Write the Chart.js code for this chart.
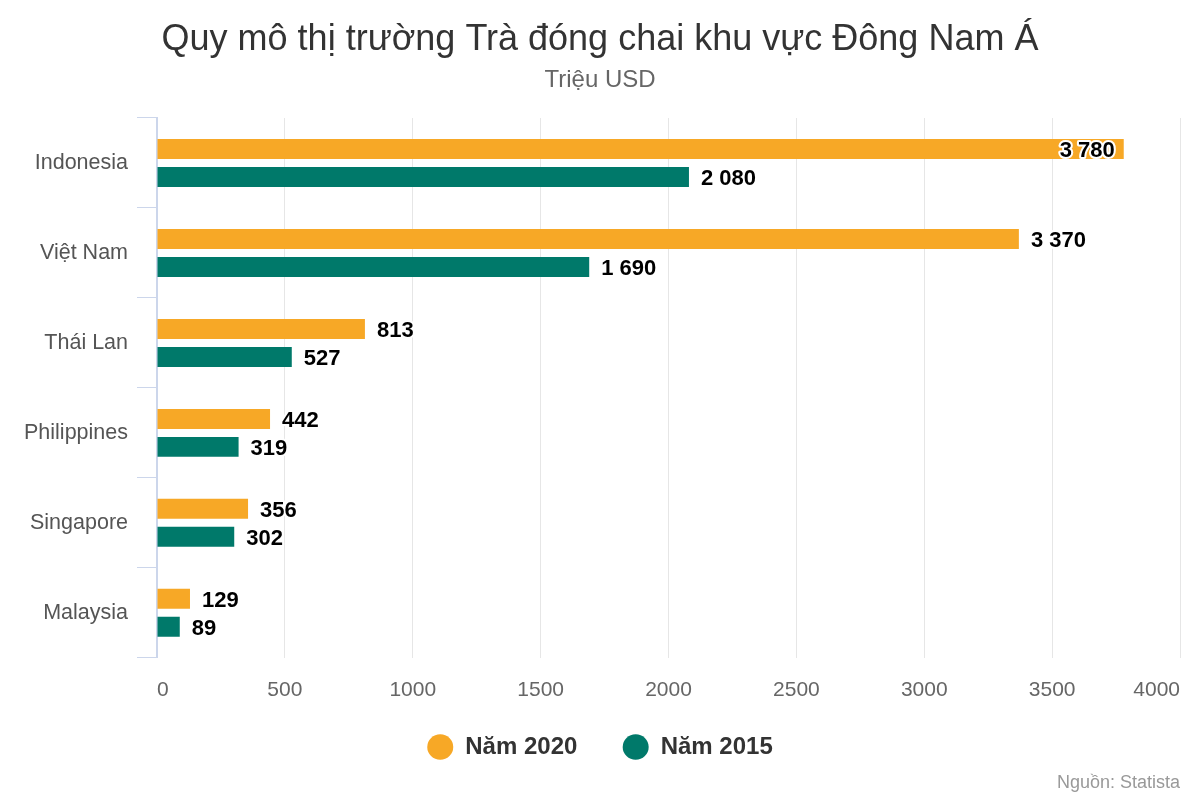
<!DOCTYPE html>
<html>
<head>
<meta charset="utf-8">
<script src="https://cdn.jsdelivr.net/npm/chart.js@4.4.0/dist/chart.umd.min.js"></script>
<style>
html, body { margin: 0; padding: 0; background: #fff; }
</style>
</head>
<body>
<canvas id="tea-chart" width="1200" height="800"></canvas>
<script>
// du lieu doc tu hinh
const countries = ["Indonesia", "Việt Nam", "Thái Lan", "Philippines", "Singapore", "Malaysia"];
const values2020 = [3780, 3370, 813, 442, 356, 129];
const values2015 = [2080, 1690, 527, 319, 302, 89];
const seriesNames = ["Năm 2020", "Năm 2015"];

const FONT = '"Liberation Sans", Arial, sans-serif';

function fmt(v) {
    return String(v).replace(/\B(?=(\d{3})+(?!\d))/g, ' ');
}

// nhan gia tri o cuoi thanh
const valueLabels = {
    id: 'valueLabels',
    afterDatasetsDraw: function (chart) {
        const ctx = chart.ctx;
        const area = chart.chartArea;
        ctx.save();
        ctx.font = 'bold 22px ' + FONT;
        ctx.textBaseline = 'middle';
        ctx.lineJoin = 'round';
        chart.data.datasets.forEach(function (ds, i) {
            chart.getDatasetMeta(i).data.forEach(function (bar, j) {
                let text = fmt(ds.data[j]);
                let w = ctx.measureText(text).width;
                let x = bar.x + 12;
                if (x + w > area.right - 5) x = bar.x - 9 - w;
                ctx.lineWidth = 4;
                ctx.strokeStyle = '#fff';
                ctx.strokeText(text, x, bar.y + 2);
                ctx.fillStyle = '#000';
                ctx.fillText(text, x, bar.y + 2);
            });
        });
        ctx.restore();
    }
};

const sourceNote = {
    id: 'sourceNote',
    afterDraw: function (chart) {
        const ctx = chart.ctx;
        ctx.save();
        ctx.font = '18px ' + FONT;
        ctx.fillStyle = '#999';
        ctx.textAlign = 'right';
        ctx.textBaseline = 'middle';
        ctx.fillText('Nguồn: Statista', 1180, 783);
        ctx.restore();
    }
};

new Chart(document.getElementById("tea-chart"), {
    type: 'bar',
    data: {
        labels: countries,
        datasets: [
            {
                label: seriesNames[0],
                data: values2020,
                backgroundColor: '#f7a826',
                borderWidth: 0,
                categoryPercentage: 0.622,
                barPercentage: 0.714
            },
            {
                label: seriesNames[1],
                data: values2015,
                backgroundColor: '#00796a',
                borderWidth: 0,
                categoryPercentage: 0.622,
                barPercentage: 0.714
            }
        ]
    },
    plugins: [valueLabels, sourceNote],
    options: {
        indexAxis: 'y',
        responsive: false,
        animation: false,
        devicePixelRatio: 1,
        layout: {
            padding: { top: 18, right: 19, bottom: 31, left: 19 }
        },
        scales: {
            x: {
                min: 0,
                max: 4000,
                ticks: {
                    stepSize: 500,
                    align: 'inner',
                    padding: 20,
                    color: '#666',
                    font: { family: FONT, size: 21 },
                    callback: function (v) { return String(v); }
                },
                grid: {
                    color: '#e6e6e6',
                    drawTicks: false
                },
                border: { display: false }
            },
            y: {
                ticks: {
                    padding: 9,
                    color: '#555',
                    font: { family: FONT, size: 21.5 }
                },
                grid: {
                    offset: true,
                    drawOnChartArea: false,
                    drawTicks: true,
                    tickLength: 20,
                    color: '#ccd6eb'
                },
                border: { display: true, color: '#ccd6eb', width: 2 },
                afterFit: function (scale) {
                    scale.width = 138;
                }
            }
        },
        plugins: {
            title: {
                display: true,
                text: 'Quy mô thị trường Trà đóng chai khu vực Đông Nam Á',
                color: '#333',
                font: { family: FONT, size: 36, weight: 'normal' },
                padding: { top: 0, bottom: 0 }
            },
            subtitle: {
                display: true,
                text: 'Triệu USD',
                color: '#666',
                font: { family: FONT, size: 24 },
                padding: { top: 5, bottom: 23 }
            },
            legend: {
                position: 'bottom',
                labels: {
                    usePointStyle: true,
                    pointStyle: 'circle',
                    boxHeight: 18,
                    pointStyleWidth: 26,
                    padding: 12,
                    color: '#333',
                    font: { family: FONT, size: 24, weight: 'bold' },
                    // khoang cach giua hai muc chu giai
                    generateLabels: function (chart) {
                        const items = Chart.defaults.plugins.legend.labels.generateLabels(chart);
                        items[0].text = items[0].text + '     ';
                        return items;
                    }
                }
            },
            tooltip: { enabled: false }
        }
    }
});
</script>
</body>
</html>
